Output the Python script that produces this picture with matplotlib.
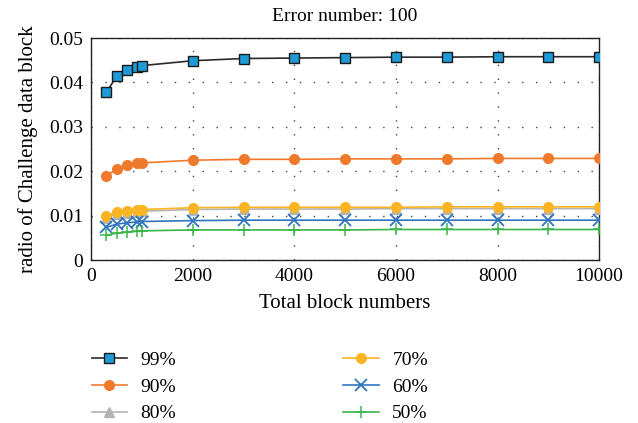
import matplotlib
matplotlib.use("Agg")
import matplotlib.pyplot as plt

plt.rcParams['font.family'] = ['Liberation Serif', 'DejaVu Serif']

blocks = [300, 500, 700, 900, 1000, 2000, 3000, 4000, 5000, 6000, 7000, 8000, 9000, 10000]

r99 = [0.0378, 0.0414, 0.0427, 0.0435, 0.0438, 0.0449, 0.0454, 0.0455, 0.0456, 0.0457, 0.0457, 0.0458, 0.0458, 0.0458]
r90 = [0.0189, 0.0206, 0.0214, 0.0218, 0.0219, 0.0225, 0.0227, 0.0227, 0.0228, 0.0228, 0.0228, 0.0229, 0.0229, 0.0229]
r80 = [0.0096, 0.0104, 0.0107, 0.0109, 0.0110, 0.0114, 0.0115, 0.0115, 0.0115, 0.0116, 0.0116, 0.0116, 0.0116, 0.0116]
r70 = [0.0099, 0.0108, 0.0110, 0.0113, 0.0114, 0.0118, 0.0119, 0.0119, 0.0119, 0.0119, 0.0120, 0.0120, 0.0120, 0.0120]
r60 = [0.0074, 0.0081, 0.0084, 0.0086, 0.0087, 0.0089, 0.0090, 0.0090, 0.0090, 0.0090, 0.0090, 0.0090, 0.0090, 0.0090]
r50 = [0.0056, 0.0061, 0.0063, 0.0065, 0.0066, 0.0068, 0.0068, 0.0068, 0.0068, 0.0069, 0.0069, 0.0069, 0.0069, 0.0069]

labels = ["99%", "90%", "80%", "70%", "60%", "50%"]

xticks = [0, 2000, 4000, 6000, 8000, 10000]
yticks = [0, 0.01, 0.02, 0.03, 0.04, 0.05]
ytick_labels = ["0", "0.01", "0.02", "0.03", "0.04", "0.05"]

fig = plt.figure(figsize=(6.38, 4.23), dpi=100)
ax = fig.add_axes([0.143, 0.385, 0.796, 0.525])

ax.plot(blocks, r99, color="#2b2b2b", lw=1.2, marker="s", ms=6.5,
        mfc="#1e9ad6", mec="#1a1a1a", mew=1.0, label=labels[0], zorder=6)
ax.plot(blocks, r90, color="#f07a2c", lw=1.2, marker="o", ms=7,
        mfc="#f07a2c", mec="#f07a2c", label=labels[1], zorder=5)
ax.plot(blocks, r80, color="#b4b4b4", lw=1.2, marker="^", ms=7,
        mfc="#b4b4b4", mec="#b4b4b4", label=labels[2], zorder=3)
ax.plot(blocks, r70, color="#fbb424", lw=1.2, marker="o", ms=7,
        mfc="#fbb424", mec="#fbb424", label=labels[3], zorder=4)
ax.plot(blocks, r60, color="#2f74bf", lw=1.2, marker="x", ms=8, mew=1.3,
        label=labels[4], zorder=4)
ax.plot(blocks, r50, color="#3ab54a", lw=1.2, marker="+", ms=9, mew=1.1,
        label=labels[5], zorder=4)

ax.set_xlim(0, 10000)
ax.set_ylim(0, 0.05)
ax.set_xticks(xticks)
ax.set_yticks(yticks)
ax.set_yticklabels(ytick_labels)
ax.tick_params(length=0, labelsize=14, pad=6)
ax.grid(True, linestyle=(0, (1, 9)), color="#444444", lw=1.0)
for s in ax.spines.values():
    s.set_linewidth(1.0)
    s.set_color("#222222")

ax.set_title("Error number: 100", fontsize=14, pad=12)
ax.set_xlabel("Total block numbers", fontsize=15, labelpad=6)
ax.set_ylabel("radio of Challenge data block", fontsize=15, labelpad=8)

handles, labs = ax.get_legend_handles_labels()
fig.legend(handles, labs, loc="upper left", bbox_to_anchor=(0.116, 0.21),
           ncol=2, frameon=False, fontsize=14, columnspacing=8.6,
           handlelength=1.85, labelspacing=0.46, handletextpad=0.67)

fig.savefig("out.png", dpi=100)
